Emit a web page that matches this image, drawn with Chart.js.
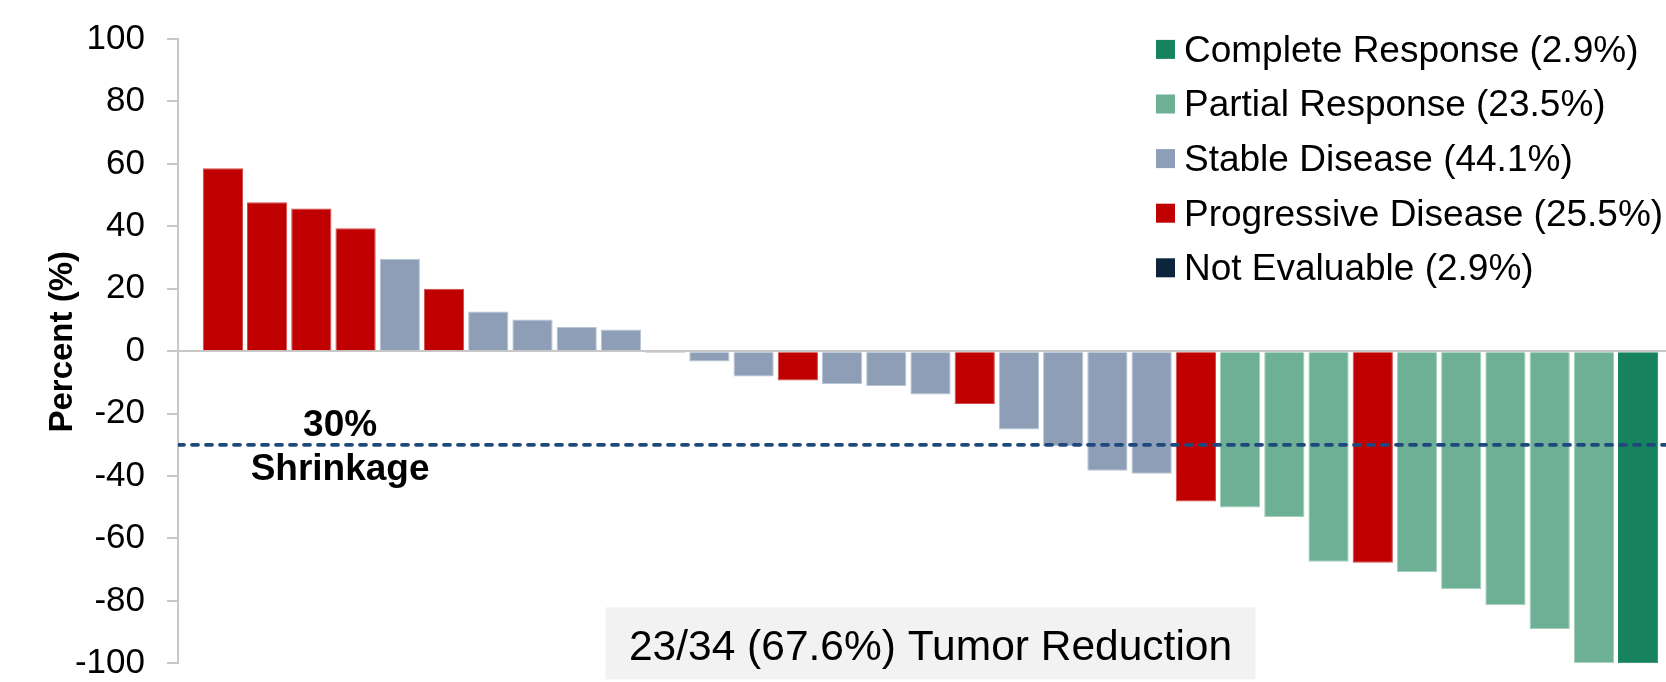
<!DOCTYPE html>
<html>
<head>
<meta charset="utf-8">
<title>Best Change in Tumor Size</title>
<script src="https://cdn.jsdelivr.net/npm/chart.js@4.4.1/dist/chart.umd.min.js"></script>
<style>
  html, body { margin: 0; padding: 0; background: #ffffff; }
  #wrap { width: 1666px; height: 682px; }
</style>
</head>
<body>
<div id="wrap"><canvas id="waterfall" width="1666" height="682"></canvas></div>
<script>
// Best percent change from baseline, one bar per patient (sorted, largest growth first)
const changes = [58.6, 47.7, 45.7, 39.4, 29.6, 20.0, 12.7, 10.1, 7.7, 6.9,
                 -0.6, -3.3, -8.1, -9.4, -10.5, -11.2, -13.9, -16.9, -25.1, -30.4,
                 -38.3, -39.3, -48.2, -50.1, -53.1, -67.5, -67.8, -70.8, -76.3, -81.4,
                 -89.0, -100, -100];

// Best overall response for each bar above
const responses = ['PD', 'PD', 'PD', 'PD', 'SD', 'PD', 'SD', 'SD', 'SD', 'SD',
                   'SD', 'SD', 'SD', 'PD', 'SD', 'SD', 'SD', 'PD', 'SD', 'SD',
                   'SD', 'SD', 'PD', 'PR', 'PR', 'PR', 'PD', 'PR', 'PR', 'PR',
                   'PR', 'PR', 'CR'];

// Response categories, legend text and colours
const categoryCodes  = ['CR', 'PR', 'SD', 'PD', 'NE'];
const categoryLabels = ['Complete Response (2.9%)', 'Partial Response (23.5%)',
                        'Stable Disease (44.1%)', 'Progressive Disease (25.5%)',
                        'Not Evaluable (2.9%)'];
const categoryColors = ['#17835e', '#6eb096', '#8d9eb6', '#c00000', '#0c253c'];
const categoryEdges  = ['#17835e', '#a4cfbd', '#b9c4d3', '#d24a4a', '#0c253c'];

// Value axis
const yMin = -100;
const yMax = 100;
const yStep = 20;
const yTitle = 'Percent (%)';

// Response threshold and annotation text
const shrinkThreshold = -30;
const thresholdLabel = ['30%', 'Shrinkage'];
const summaryText = '23/34 (67.6%) Tumor Reduction';

const FONT = "'Liberation Sans', Arial, Helvetica, sans-serif";
Chart.defaults.font.family = FONT;
Chart.defaults.color = '#000000';

// x range: slot index of each bar, with room between the value axis and the first bar
const xMin = -1.015;
const xMax = changes.length - 1 + 0.63;

// one bar dataset per response category
const barSets = categoryCodes.map((code, ci) => ({
  type: 'bar',
  label: categoryLabels[ci],
  data: changes
    .map((v, i) => ({ x: i, y: v, r: responses[i] }))
    .filter(p => p.r === code)
    .map(p => ({ x: p.x, y: p.y })),
  backgroundColor: categoryColors[ci],
  borderColor: categoryEdges[ci],
  borderWidth: 1,
  grouped: false,
  categoryPercentage: 1.0,
  barPercentage: 0.91,
  order: 2
}));

const thresholdLine = {
  type: 'line',
  label: 'threshold',
  data: [{ x: xMin, y: shrinkThreshold }, { x: xMax, y: shrinkThreshold }],
  borderColor: '#1f497d',
  borderWidth: 3.8,
  borderDash: [6, 8],
  borderCapStyle: 'round',
  pointRadius: 0,
  fill: false,
  order: 0
};

// legend in the upper right, one row per category
const responseLegend = {
  id: 'responseLegend',
  afterDraw(chart) {
    const { ctx } = chart;
    const left = chart.chartArea.right - 510;
    const firstRow = 49.4;
    const rowGap = 54.6;
    ctx.save();
    ctx.font = '37px ' + FONT;
    ctx.textAlign = 'left';
    ctx.textBaseline = 'alphabetic';
    categoryLabels.forEach((label, i) => {
      const cy = firstRow + i * rowGap;
      ctx.fillStyle = categoryColors[i];
      ctx.fillRect(left, cy - 9.5, 19, 19);
      ctx.fillStyle = '#000000';
      ctx.fillText(label, left + 28, cy + 12.4);
    });
    ctx.restore();
  }
};

// rotated value-axis title
const axisTitle = {
  id: 'axisTitle',
  afterDraw(chart) {
    const { ctx } = chart;
    const yScale = chart.scales.y;
    ctx.save();
    ctx.font = 'bold 33px ' + FONT;
    ctx.fillStyle = '#000000';
    ctx.textAlign = 'center';
    ctx.textBaseline = 'alphabetic';
    ctx.translate(72, yScale.getPixelForValue(3));
    ctx.rotate(-Math.PI / 2);
    ctx.fillText(yTitle, 0, 0);
    ctx.restore();
  }
};

// threshold caption and the summary box
const annotations = {
  id: 'annotations',
  afterDatasetsDraw(chart) {
    const { ctx } = chart;
    const xs = chart.scales.x;
    const ys = chart.scales.y;
    ctx.save();

    const lineY = ys.getPixelForValue(shrinkThreshold);
    const capX = xs.getPixelForValue(2.65);
    ctx.font = 'bold 37px ' + FONT;
    ctx.fillStyle = '#000000';
    ctx.textAlign = 'center';
    ctx.textBaseline = 'alphabetic';
    ctx.fillText(thresholdLabel[0], capX, lineY - 9);
    ctx.fillText(thresholdLabel[1], capX, lineY + 35.4);

    const boxCx = xs.getPixelForValue(16);
    const boxCy = ys.getPixelForValue(-93.6);
    const boxW = 650, boxH = 72;
    ctx.fillStyle = '#f2f2f2';
    ctx.fillRect(boxCx - boxW / 2, boxCy - boxH / 2, boxW, boxH);
    ctx.font = '42.5px ' + FONT;
    ctx.fillStyle = '#000000';
    ctx.fillText(summaryText, boxCx, boxCy + 17);

    ctx.restore();
  }
};

new Chart(document.getElementById('waterfall'), {
  data: { datasets: [...barSets, thresholdLine] },
  options: {
    responsive: false,
    devicePixelRatio: 1,
    animation: false,
    layout: { padding: { top: 39, bottom: 18.7, left: 0, right: 0 } },
    plugins: {
      legend: { display: false },
      tooltip: { enabled: false },
      title: { display: false }
    },
    scales: {
      x: {
        type: 'linear',
        min: xMin,
        max: xMax,
        offset: false,
        grid: { offset: false },
        display: false
      },
      y: {
        type: 'linear',
        min: yMin,
        max: yMax,
        z: 1,
        afterFit(scale) {
          // fixed axis band; the label gap should not push the plot edges in
          scale.width = 178;
          scale.paddingTop = 0;
          scale.paddingBottom = 0;
        },
        border: { display: true, color: '#c8c8c8', width: 2 },
        grid: {
          drawOnChartArea: true,
          drawTicks: true,
          tickLength: 11,
          lineWidth: 2,
          tickColor: '#c8c8c8',
          color: (c) => (c.tick && c.tick.value === 0 ? '#c8c8c8' : 'rgba(0,0,0,0)')
        },
        ticks: {
          stepSize: yStep,
          padding: 22,
          color: '#000000',
          font: { size: 35, lineHeight: 1 },
          callback: (v) => String(v)
        }
      }
    }
  },
  plugins: [responseLegend, axisTitle, annotations]
});
</script>
</body>
</html>
